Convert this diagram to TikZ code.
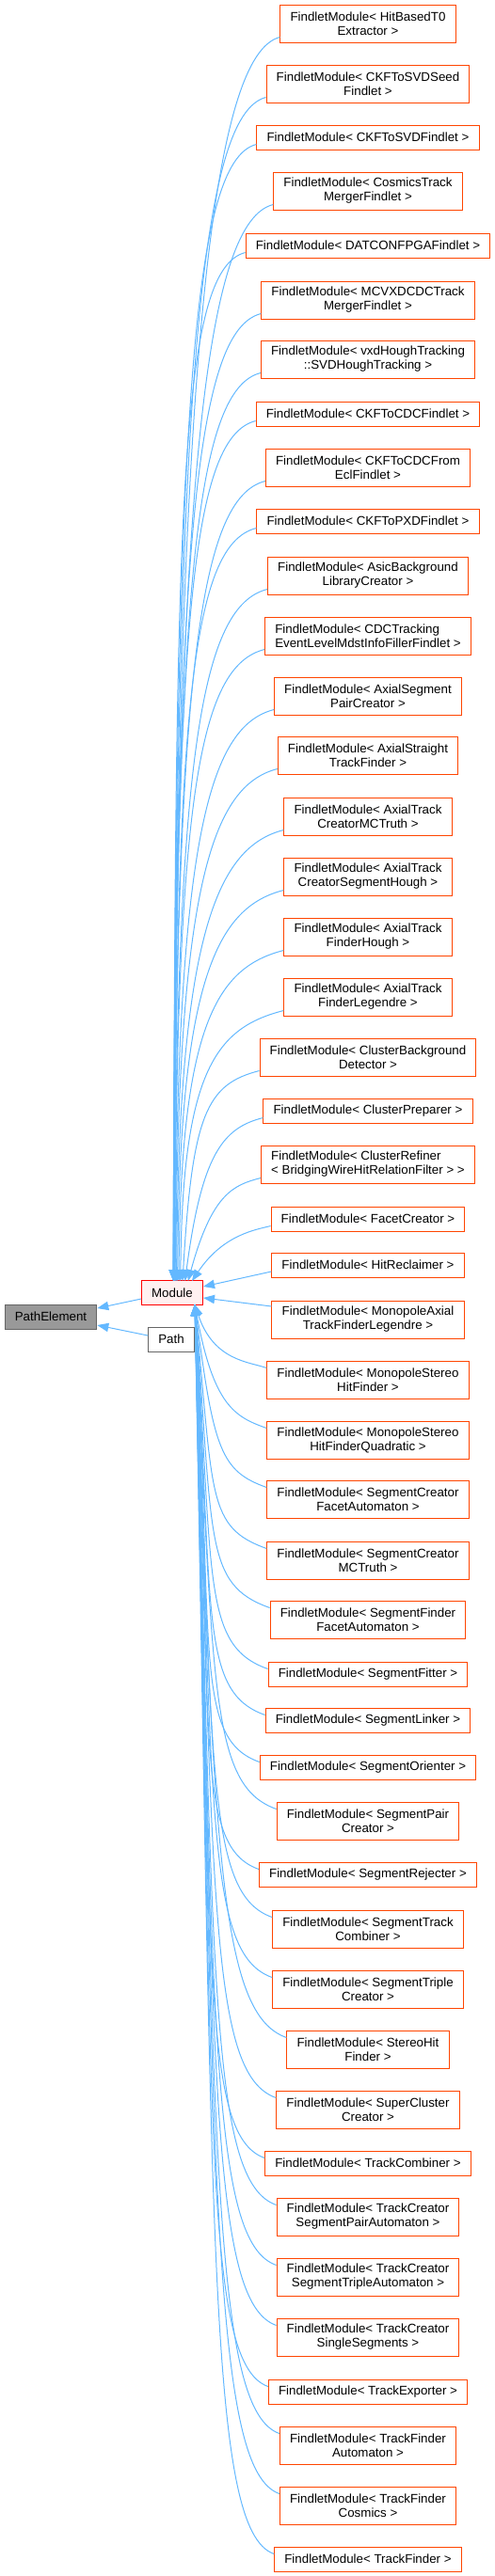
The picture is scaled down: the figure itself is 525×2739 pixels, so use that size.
\documentclass[tikz,border=0pt]{standalone}
\usepackage{fontspec}
\setmainfont{Liberation Sans}
\usetikzlibrary{arrows.meta,calc}
\definecolor{edgeblue}{RGB}{99,184,255}
\definecolor{findletred}{RGB}{255,69,0}
\definecolor{modulefill}{RGB}{255,240,240}
\definecolor{basegray}{RGB}{153,153,153}
\definecolor{bordergray}{RGB}{102,102,102}

\tikzset{
    box/.style={draw, line width=0.75pt, inner xsep=8pt, inner ysep=2pt,
        minimum height=19.5pt, font=\fontsize{10}{11.25}\selectfont},
    findlet/.style={box, draw=findletred, fill=white},
    findlet2/.style={findlet, minimum height=30pt, align=center},
    findlet2l/.style={findlet, minimum height=30pt, align=left},
    inherit/.style={draw=edgeblue, line width=0.75pt, -{Triangle[length=9pt,width=7pt]}}
}

\begin{document}
\begin{tikzpicture}[x=0.75pt,y=-0.75pt]
    \useasboundingbox (0,0) rectangle (525,2739);

    % Base classes
    \node[box, fill=basegray, draw=bordergray] (pathelem) at (54,1400) {PathElement};
    \node[box, fill=modulefill, draw=red] (module) at (183,1374.5) {Module};
    \node[box, fill=white, draw=bordergray] (path) at (182,1424) {Path};
    \draw[inherit] ([yshift=-4.9pt]module.west) -- ([yshift=6.75pt]pathelem.east);
    \draw[inherit] ([yshift=3pt]path.west) -- ([yshift=-6.75pt]pathelem.east);

    % Findlet modules above Module
    \foreach \i/\y/\s/\lbl in {
        1/25/findlet2/{FindletModule< HitBasedT0\\Extractor >},
        2/89/findlet2/{FindletModule< CKFToSVDSeed\\Findlet >},
        3/146/findlet/{FindletModule< CKFToSVDFindlet >},
        4/203/findlet2/{FindletModule< CosmicsTrack\\MergerFindlet >},
        5/261/findlet/{FindletModule< DATCONFPGAFindlet >},
        6/319/findlet2/{FindletModule< MCVXDCDCTrack\\MergerFindlet >},
        7/382/findlet2/{FindletModule< vxdHoughTracking\\::SVDHoughTracking >},
        8/440/findlet/{FindletModule< CKFToCDCFindlet >},
        9/497/findlet2/{FindletModule< CKFToCDCFrom\\EclFindlet >},
        10/554/findlet/{FindletModule< CKFToPXDFindlet >},
        11/612/findlet2/{FindletModule< AsicBackground\\LibraryCreator >},
        12/676/findlet2l/{FindletModule< CDCTracking\\EventLevelMdstInfoFillerFindlet >},
        13/740/findlet2/{FindletModule< AxialSegment\\PairCreator >},
        14/803/findlet2/{FindletModule< AxialStraight\\TrackFinder >},
        15/868/findlet2/{FindletModule< AxialTrack\\CreatorMCTruth >},
        16/932/findlet2/{FindletModule< AxialTrack\\CreatorSegmentHough >},
        17/996/findlet2/{FindletModule< AxialTrack\\FinderHough >},
        18/1060/findlet2/{FindletModule< AxialTrack\\FinderLegendre >},
        19/1124/findlet2/{FindletModule< ClusterBackground\\Detector >},
        20/1181/findlet/{FindletModule< ClusterPreparer >},
        21/1238/findlet2l/{FindletModule< ClusterRefiner\\< BridgingWireHitRelationFilter > >},
        22/1296/findlet/{FindletModule< FacetCreator >}} {
        \node[\s] (c\i) at (391,\y) {\lbl};
        \pgfmathsetmacro\dy{1362-\y}
        \pgfmathsetmacro\f{min(1,\dy/300)}
        \pgfmathsetmacro\xe{184+26*exp(-\dy/250)}
        \pgfmathsetmacro\xc{\xe+2+40*(1-\f)}
        \pgfmathsetmacro\yc{1362-0.75*\dy}
        \draw[inherit] ([yshift=4.5pt]c\i.south west) .. controls +(-70*\f,18*\f) and (\xc,\yc) .. (\xe,1362);
    }

    % Findlet modules beside Module
    \node[findlet] (c23) at (391,1345) {FindletModule< HitReclaimer >};
    \node[findlet2] (c24) at (391,1403) {FindletModule< MonopoleAxial\\TrackFinderLegendre >};
    \draw[inherit] ([yshift=-5.25pt]c23.west) -- ([yshift=4.9pt]module.east);
    \draw[inherit] ([yshift=10.5pt]c24.west) -- ([yshift=-4.1pt]module.east);

    % Findlet modules below Module
    \foreach \i/\y/\s/\lbl in {
        25/1467/findlet2/{FindletModule< MonopoleStereo\\HitFinder >},
        26/1531/findlet2/{FindletModule< MonopoleStereo\\HitFinderQuadratic >},
        27/1594/findlet2/{FindletModule< SegmentCreator\\FacetAutomaton >},
        28/1659/findlet2/{FindletModule< SegmentCreator\\MCTruth >},
        29/1722/findlet2/{FindletModule< SegmentFinder\\FacetAutomaton >},
        30/1780/findlet/{FindletModule< SegmentFitter >},
        31/1829/findlet/{FindletModule< SegmentLinker >},
        32/1879/findlet/{FindletModule< SegmentOrienter >},
        33/1936/findlet2/{FindletModule< SegmentPair\\Creator >},
        34/1993/findlet/{FindletModule< SegmentRejecter >},
        35/2051/findlet2/{FindletModule< SegmentTrack\\Combiner >},
        36/2115/findlet2/{FindletModule< SegmentTriple\\Creator >},
        37/2179/findlet2/{FindletModule< StereoHit\\Finder >},
        38/2243/findlet2/{FindletModule< SuperCluster\\Creator >},
        39/2300/findlet/{FindletModule< TrackCombiner >},
        40/2357/findlet2/{FindletModule< TrackCreator\\SegmentPairAutomaton >},
        41/2421/findlet2/{FindletModule< TrackCreator\\SegmentTripleAutomaton >},
        42/2485/findlet2/{FindletModule< TrackCreator\\SingleSegments >},
        43/2543/findlet/{FindletModule< TrackExporter >},
        44/2600/findlet2/{FindletModule< TrackFinder\\Automaton >},
        45/2664/findlet2/{FindletModule< TrackFinder\\Cosmics >},
        46/2721/findlet/{FindletModule< TrackFinder >}} {
        \node[\s] (c\i) at (391,\y) {\lbl};
        \pgfmathsetmacro\dy{\y-1387}
        \pgfmathsetmacro\f{min(1,\dy/300)}
        \pgfmathsetmacro\yc{1387+0.75*\dy}
        \draw[inherit] ([yshift=-6pt]c\i.north west) .. controls +(-70*\f,-25*\f) and (227,\yc) .. (207,1387);
    }
\end{tikzpicture}
\end{document}
